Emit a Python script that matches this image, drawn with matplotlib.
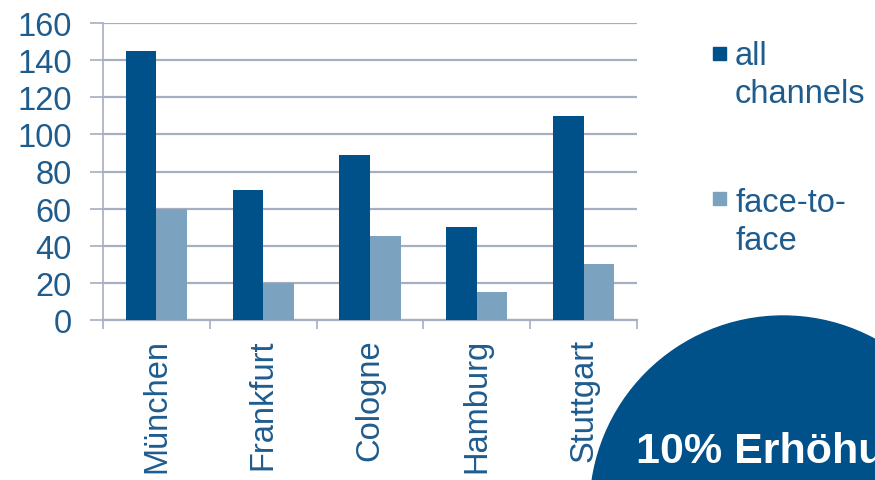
"""
Balkendiagramm: Kanäle je Standort, mit Hinweis-Kreis
"""
import numpy as np
import matplotlib.pyplot as plt
from matplotlib.patches import Circle, Rectangle

plt.rcParams['font.family'] = ['Liberation Sans', 'DejaVu Sans']

# Daten
cities = ['München', 'Frankfurt', 'Cologne', 'Hamburg', 'Stuttgart']
all_channels = [145, 70, 89, 50, 110]
face_to_face = [60, 20, 45, 15, 30]
series_labels = ['all\nchannels', 'face-to-\nface']
y_ticks = [0, 20, 40, 60, 80, 100, 120, 140, 160]
callout = '10% Erhöhung'

DARK = '#00508A'
LIGHT = '#7BA2BE'
TEXT = '#1F5C8E'
GRID = '#A7AEC2'
FS = 23.5

fig = plt.figure(figsize=(8.75, 4.81), dpi=100)
ax = fig.add_axes([103 / 875, 160 / 481, 534 / 875, 297 / 481])

x = np.arange(len(cities))
w = 0.286
ax.bar(x - w / 2, all_channels, w, color=DARK, zorder=3)
ax.bar(x + w / 2, face_to_face, w, color=LIGHT, zorder=3)

ax.set_xlim(-0.5, len(cities) - 0.5)
ax.set_ylim(0, 160)

# Gitterlinien und Achsen
ax.set_yticks(y_ticks)
ax.yaxis.grid(True, color=GRID, lw=1.6, zorder=0)
ax.tick_params(axis='y', length=9.4, width=1.2, color=GRID, pad=13,
               labelsize=FS, labelcolor=TEXT)
for side in ['top', 'right']:
    ax.spines[side].set_visible(False)
ax.spines['left'].set_color(GRID)
ax.spines['left'].set_linewidth(1.2)
ax.spines['bottom'].set_color(GRID)
ax.spines['bottom'].set_linewidth(1.6)

# Kategoriegrenzen als Striche, Namen in der Mitte
ax.set_xticks(np.arange(len(cities) + 1) - 0.5)
ax.set_xticklabels([])
ax.tick_params(axis='x', which='major', length=6.5, width=1.2, color=GRID)
ax.set_xticks(x, minor=True)
ax.set_xticklabels(cities, minor=True, rotation=90, fontsize=FS, color=TEXT)
ax.tick_params(axis='x', which='minor', length=0, pad=13)

# Legende (Pixel von oben)
legend_colors = [DARK, LIGHT]
legend_squares = [48, 193]
legend_text_tops = [41, 188]
for label, col, sq, top in zip(series_labels, legend_colors,
                               legend_squares, legend_text_tops):
    fig.add_artist(Rectangle((713 / 875, 1 - (sq + 13) / 481), 13 / 875, 13 / 481,
                             transform=fig.transFigure, color=col))
    fig.text(735 / 875, 1 - top / 481, label, fontsize=FS, color=TEXT,
             va='top', ha='left', linespacing=1.28)

# Kreis mit Hinweistext
fig.add_artist(Circle((7.83, (481 - 510) / 100), 1.93,
                      transform=fig.dpi_scale_trans, color=DARK, zorder=5))
fig.text(636 / 875, 18 / 481, callout, fontsize=31, fontweight='bold',
         color='white', ha='left', va='baseline', zorder=6)

fig.savefig('out.png', dpi=100)
